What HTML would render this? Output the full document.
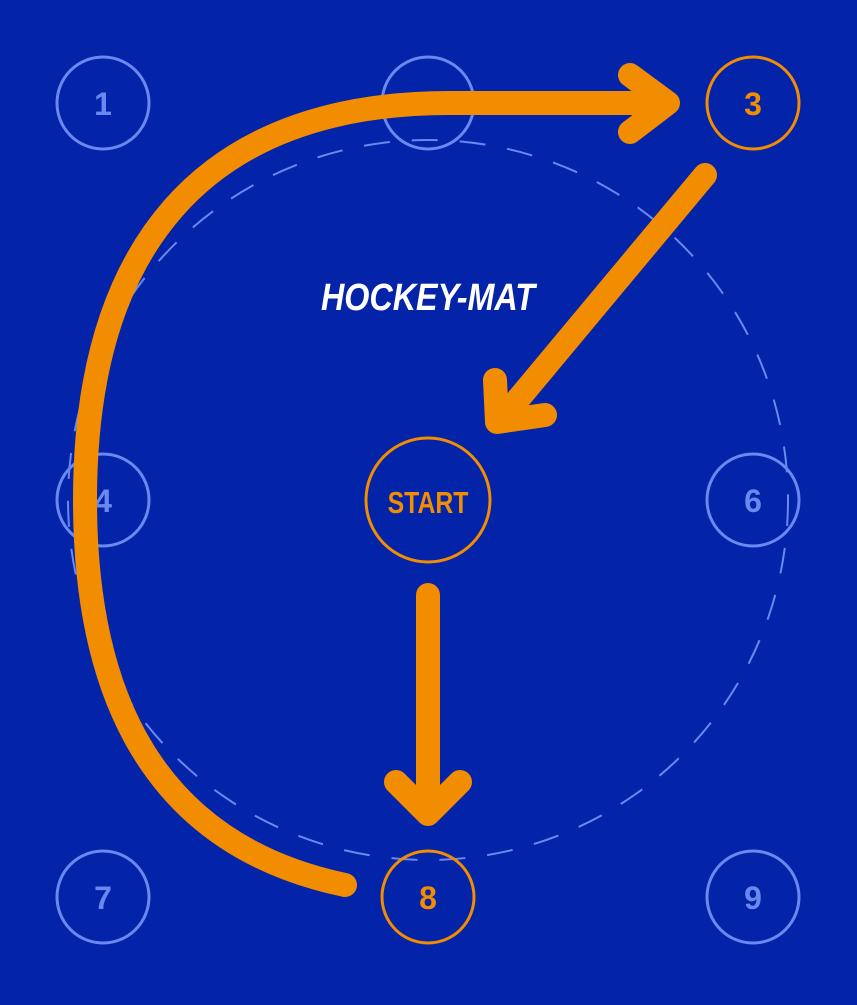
<!DOCTYPE html>
<html><head><style>body{margin:0;background:#0323a8}</style></head><body>
<svg width="857" height="1000" viewBox="0 0 857 1000" xmlns="http://www.w3.org/2000/svg">
<rect width="857" height="1000" fill="#0323a8"/>
<circle cx="428" cy="500" r="360" fill="none" stroke="#6a88f0" stroke-width="2" stroke-dasharray="26 22"/>
<g fill="none" stroke="#6a88f0" stroke-width="3">
<circle cx="103" cy="103" r="46"/><circle cx="428" cy="103" r="46"/>
<circle cx="103" cy="500" r="46"/><circle cx="753" cy="500" r="46"/>
<circle cx="103" cy="897" r="46"/><circle cx="753" cy="897" r="46"/>
</g>
<g fill="none" stroke="#f28c00" stroke-width="3">
<circle cx="753" cy="103" r="46"/><circle cx="428" cy="500" r="62"/><circle cx="428" cy="897" r="46"/>
</g>
<g font-family="Liberation Sans, sans-serif" font-weight="bold" font-size="32" text-anchor="middle">
<text x="103" y="115" fill="#6a88f0">1</text>
<text x="103" y="512" fill="#6a88f0">4</text>
<text x="753" y="512" fill="#6a88f0">6</text>
<text x="103" y="909" fill="#6a88f0">7</text>
<text x="753" y="909" fill="#6a88f0">9</text>
<text x="428" y="115" fill="#6a88f0">2</text>
<text x="753" y="115" fill="#f28c00">3</text>
<text x="428" y="909" fill="#f28c00">8</text>
<text x="428" y="513" fill="#f28c00" font-size="31" transform="translate(428 0) scale(0.8 1) translate(-428 0)">START</text>
<text x="428" y="310" fill="#fff" font-size="38" font-style="italic" transform="translate(428 0) scale(0.85 1) translate(-428 0)">HOCKEY-MAT</text>
</g>
<g fill="none" stroke="#f28c00" stroke-width="24" stroke-linecap="round" stroke-linejoin="round">
<path d="M345 885 C 130 840 85 660 85 500 C 85 250 200 103 450 103 L 665 103"/>
<path d="M630 75 L668 103 L630 132"/>
<path d="M705 175 L505 415"/>
<path d="M495 380 L497 422 L545 415"/>
<path d="M428 595 L428 812"/>
<path d="M396 782 L428 814 L460 782"/>
</g>
</svg>
</body></html>
